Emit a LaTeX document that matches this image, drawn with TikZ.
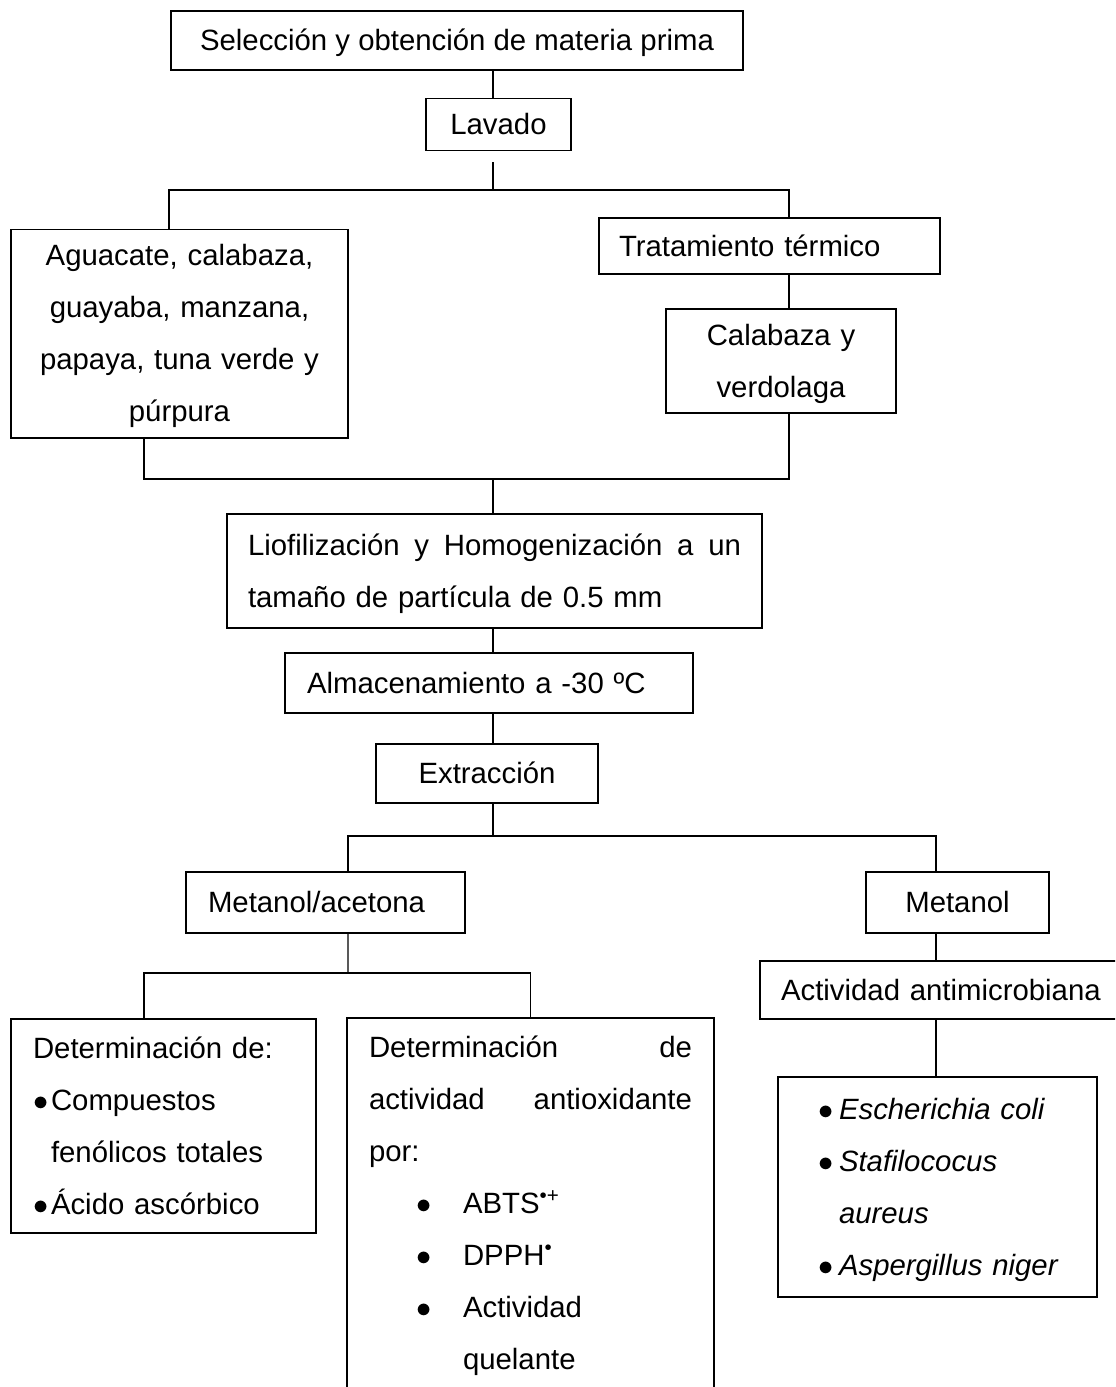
\documentclass[tikz,border=0pt]{standalone}
\usepackage{fontspec}
\setmainfont{Liberation Sans}

\newcommand{\bul}[2]{\makebox[#1][l]{\hspace*{#2}$\bullet$}}

\begin{document}
\begin{tikzpicture}[
    box/.style={draw, rectangle, line width=1.1pt, inner ysep=0pt,
      font=\fontsize{16.7}{29.6}\selectfont,
      execute at begin node=\strut, execute at end node=\strut},
    link/.style={line width=0.7pt}]
  \clip (0,0) rectangle (22.3,-27.74);

  \coordinate (trunk) at (9.86,0);
  \coordinate (rcol) at (15.78,0);
  \coordinate (mcol) at (18.72,0);

  \node[box, minimum width=11.44cm, minimum height=1.18cm] (sel) at (9.14,-0.81)
    {Selección y obtención de materia prima};
  \node[box, minimum width=2.90cm, minimum height=1.02cm] (lav) at (9.97,-2.49) {Lavado};
  \node[box, text width=6.14cm, inner xsep=0.3cm, align=center, minimum height=4.14cm] (agu) at (3.59,-6.67)
    {Aguacate, calabaza,\\ guayaba, manzana,\\ papaya, tuna verde y\\ púrpura};
  \node[box, text width=6.02cm, inner xsep=0.4cm, align=left, minimum height=1.12cm] (tra) at (15.39,-4.92)
    {Tratamiento térmico};
  \node[box, text width=4.0cm, inner xsep=0.3cm, align=center, minimum height=2.08cm] (cal) at (15.62,-7.22)
    {Calabaza y\\ verdolaga};
  \node[box, text width=9.86cm, inner xsep=0.42cm, align=left, minimum height=2.28cm] (lio) at (9.89,-11.42)
    {Liofilización\hfill y\hfill Homogenización\hfill a\hfill un\\ tamaño de partícula de 0.5 mm};
  \node[box, text width=7.28cm, inner xsep=0.44cm, align=left, minimum height=1.20cm] (alm) at (9.78,-13.66)
    {Almacenamiento a -30 ºC};
  \node[box, minimum width=4.44cm, minimum height=1.18cm] (ext) at (9.74,-15.47) {Extracción};
  \node[box, text width=4.70cm, inner xsep=0.44cm, align=left, minimum height=1.22cm] (mac) at (6.51,-18.05)
    {Metanol/acetona};
  \node[box, minimum width=3.66cm, minimum height=1.22cm] (met) at (19.15,-18.05) {Metanol};
  \node[box, text width=6.56cm, inner xsep=0.42cm, align=left, minimum height=1.16cm] (ant) at (18.90,-19.80)
    {Actividad antimicrobiana};
  \node[box, text width=5.22cm, inner xsep=0.44cm, align=left, minimum height=4.28cm] (det1) at (3.27,-22.52)
    {Determinación de:\\
     \bul{0.36cm}{0cm}Compuestos\\
     \hspace*{0.36cm}fenólicos totales\\
     \bul{0.36cm}{0cm}Ácido ascórbico};
  \node[box, draw=none, text width=6.46cm, inner xsep=0.42cm, align=left, minimum height=7.36cm] (det2) at (10.61,-24.06)
    {Determinación\hfill de\\
     actividad\hfill antioxidante\\
     por:\\
     \bul{1.88cm}{0.94cm}ABTS\textsuperscript{\textbullet+}\\
     \bul{1.88cm}{0.94cm}DPPH\textsuperscript{\textbullet}\\
     \bul{1.88cm}{0.94cm}Actividad\\
     \hspace*{1.88cm}quelante};
  \draw[line width=1.1pt] (det2.south west) |- (det2.north east) -- (det2.south east);
  \node[box, text width=5.50cm, inner xsep=0.44cm, align=left, minimum height=4.40cm] (esp) at (18.75,-23.74)
    {\bul{0.78cm}{0.36cm}\textit{Escherichia coli}\\
     \bul{0.78cm}{0.36cm}\textit{Stafilococus}\\
     \hspace*{0.78cm}\textit{aureus}\\
     \bul{0.78cm}{0.36cm}\textit{Aspergillus niger}};

  \coordinate (lavgap) at (9.86,-3.24);
  \coordinate (s1) at (9.86,-3.80);
  \coordinate (j1) at (9.86,-9.58);
  \coordinate (s2) at (9.86,-16.72);
  \coordinate (s3) at (6.96,-19.46);

  \draw[link] (sel.south -| trunk) -- (lav.north -| trunk);
  \draw[link] (lavgap) -- (s1);
  \draw[link] ([xshift=-0.21cm]agu.north) |- (s1) -| ([xshift=0.39cm]tra.north);
  \draw[link] (tra.south -| rcol) -- (cal.north -| rcol);
  \draw[link] ([xshift=-0.71cm]agu.south) |- (j1) -| (cal.south -| rcol);
  \draw[link] (j1) -- (lio.north -| trunk);
  \draw[link] (lio.south -| trunk) -- (alm.north -| trunk);
  \draw[link] (alm.south -| trunk) -- (ext.north -| trunk);
  \draw[link] (ext.south -| trunk) -- (s2);
  \draw[link] ([xshift=0.45cm]mac.north) |- (s2) -| (met.north -| mcol);
  \draw[link] ([xshift=0.45cm]mac.south) -- (s3);
  \draw[link] ([xshift=-0.39cm]det1.north) |- (s3) -| (det2.north);
  \draw[link] (met.south -| mcol) -- (ant.north -| mcol);
  \draw[link] (ant.south -| mcol) -- (esp.north -| mcol);
\end{tikzpicture}
\end{document}
